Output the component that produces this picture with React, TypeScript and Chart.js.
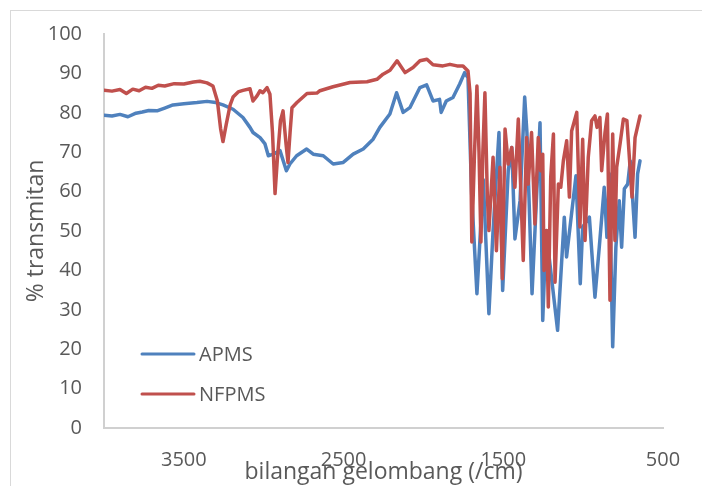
import React, { useEffect, useRef } from "react";
import { Chart, registerables } from "chart.js";

Chart.register(...registerables);

const FONT = '"Open Sans", "DejaVu Sans", sans-serif';
const TEXT = "#595959";
const AXIS = "#d0d0d0";

const seriesNames = ["APMS", "NFPMS"];
const seriesColors = ["#4F81BD", "#C0504D"];
const xTickValues = [3500, 2500, 1500, 500];
const xTitle = "bilangan gelombang (/cm)";
const yTitle = "% transmitan";

// APMS spectrum: wavenumber (cm-1) and % transmittance
const wnAPMS = [
  4000, 3950, 3900, 3850, 3800, 3760, 3720, 3668, 3620, 3568,
  3500, 3418, 3355, 3300, 3255, 3192, 3130, 3086, 3067, 3023,
  2992, 2971, 2940, 2898, 2858, 2836, 2794, 2731, 2690, 2627,
  2565, 2502, 2440, 2377, 2315, 2273, 2210, 2168, 2127, 2085,
  2022, 1980, 1940, 1899, 1889, 1857, 1815, 1773, 1742, 1721,
  1698, 1665, 1625, 1590, 1565, 1527, 1504, 1469, 1447, 1427,
  1395, 1366, 1352, 1320, 1270, 1253, 1232, 1160, 1118, 1104,
  1045, 1018, 1003, 961, 926, 899, 868, 851, 836, 815,
  795, 774, 759, 742, 721, 705, 675, 659, 644,
];
const tAPMS = [
  79.4, 79.2, 79.6, 79.0, 79.9, 80.2, 80.6, 80.5, 81.2, 82.0,
  82.3, 82.6, 82.9, 82.6, 82.0, 80.9, 78.8, 76.3, 75.0, 73.7,
  72.1, 69.1, 69.5, 70.4, 65.3, 67.0, 69.1, 70.8, 69.5, 69.1,
  67.0, 67.4, 69.5, 70.8, 73.3, 76.3, 79.7, 85.1, 80.1, 81.3,
  86.4, 87.1, 83.0, 83.4, 80.1, 83.0, 83.9, 87.3, 90.2, 88.9,
  59.4, 34.1, 63.0, 29.0, 49.3, 75.0, 34.9, 65.3, 71.2, 48.0,
  57.7, 84.0, 75.0, 34.1, 77.5, 27.3, 50.1, 24.8, 53.5, 43.4,
  64.0, 36.6, 51.0, 53.5, 33.2, 45.9, 61.1, 48.4, 64.5, 20.6,
  45.9, 57.7, 45.9, 60.7, 61.9, 67.8, 48.4, 64.5, 67.8,
];

// NFPMS spectrum: wavenumber (cm-1) and % transmittance
const wnNFPMS = [
  4000, 3950, 3900, 3860, 3820, 3780, 3740, 3700, 3660, 3620,
  3560, 3500, 3440, 3400, 3355, 3318, 3290, 3270, 3255, 3235,
  3210, 3192, 3160, 3130, 3086, 3067, 3042, 3023, 3005, 2979,
  2961, 2945, 2929, 2915, 2895, 2879, 2860, 2848, 2835, 2823,
  2792, 2729, 2667, 2648, 2566, 2460, 2353, 2291, 2253, 2209,
  2165, 2115, 2065, 2022, 1978, 1940, 1878, 1834, 1790, 1752,
  1721, 1708, 1697, 1680, 1665, 1652, 1640, 1628, 1615, 1600,
  1590, 1564, 1543, 1521, 1506, 1489, 1469, 1447, 1427, 1406,
  1375, 1354, 1344, 1323, 1302, 1281, 1266, 1253, 1245, 1228,
  1218, 1203, 1186, 1176, 1155, 1140, 1124, 1103, 1086, 1072,
  1040, 1020, 1003, 988, 968, 947, 926, 913, 895, 884,
  863, 848, 832, 815, 801, 790, 769, 748, 726, 694,
  675, 644,
];
const tNFPMS = [
  85.7, 85.5, 85.9, 84.9, 86.0, 85.6, 86.5, 86.2, 87.0, 86.8,
  87.4, 87.3, 87.8, 88.0, 87.6, 86.8, 83.0, 76.0, 72.7, 77.0,
  82.0, 84.0, 85.3, 85.7, 86.1, 83.0, 84.3, 85.6, 85.1, 86.4,
  84.7, 75.0, 59.5, 68.0, 78.0, 80.5, 72.0, 67.4, 75.0, 81.3,
  82.6, 84.9, 85.0, 85.6, 86.6, 87.7, 87.9, 88.5, 89.8, 90.8,
  93.2, 90.2, 91.5, 93.2, 93.6, 92.2, 91.9, 92.3, 91.9, 91.9,
  90.6, 85.0, 47.2, 70.0, 86.8, 70.0, 47.2, 70.0, 85.1, 59.0,
  50.1, 68.7, 45.0, 66.2, 37.9, 75.9, 67.0, 71.2, 61.1, 78.4,
  42.5, 73.7, 61.9, 75.0, 51.8, 73.7, 65.3, 69.5, 40.0, 50.1,
  30.7, 63.6, 74.6, 37.0, 61.9, 61.1, 67.8, 72.9, 58.6, 75.4,
  80.1, 51.0, 73.3, 47.6, 68.7, 78.0, 79.2, 76.3, 78.8, 65.3,
  75.0, 79.7, 32.4, 74.6, 47.6, 66.2, 72.1, 78.4, 78.0, 58.6,
  73.7, 79.2,
];

const toPoints = (xs: number[], ys: number[]) =>
  xs.map((x, i) => ({ x, y: ys[i] }));

const overlayPlugin = {
  id: "overlay",
  afterDraw(chart: any) {
    const { ctx, chartArea } = chart;
    ctx.save();
    // inside legend
    const legendRows = [chartArea.bottom - 74, chartArea.bottom - 34];
    seriesNames.forEach((name, i) => {
      const y = legendRows[i];
      ctx.strokeStyle = seriesColors[i];
      ctx.lineWidth = 3;
      ctx.lineCap = "round";
      ctx.beginPath();
      ctx.moveTo(chartArea.left + 38, y);
      ctx.lineTo(chartArea.left + 90, y);
      ctx.stroke();
      ctx.fillStyle = TEXT;
      ctx.font = `20px ${FONT}`;
      ctx.textAlign = "left";
      ctx.textBaseline = "alphabetic";
      ctx.fillText(name, chartArea.left + 95, y + 7);
    });
    // axis titles
    ctx.fillStyle = TEXT;
    ctx.font = `23px ${FONT}`;
    ctx.textAlign = "center";
    ctx.textBaseline = "alphabetic";
    ctx.fillText(xTitle, (chartArea.left + chartArea.right) / 2, chartArea.bottom + 51);
    ctx.translate(43, (chartArea.top + chartArea.bottom) / 2);
    ctx.rotate(-Math.PI / 2);
    ctx.fillText(yTitle, 0, 0);
    ctx.restore();
  },
};

export default function App() {
  const ref = useRef<HTMLCanvasElement | null>(null);

  useEffect(() => {
    if (!ref.current) return;
    const lineStyle = {
      borderWidth: 3.5,
      pointRadius: 0,
      tension: 0,
      borderJoinStyle: "round" as const,
      borderCapStyle: "round" as const,
    };
    const chart = new Chart(ref.current, {
      type: "line",
      data: {
        datasets: [
          {
            label: seriesNames[0],
            data: toPoints(wnAPMS, tAPMS),
            borderColor: seriesColors[0],
            backgroundColor: seriesColors[0],
            ...lineStyle,
            order: 1,
          },
          {
            label: seriesNames[1],
            data: toPoints(wnNFPMS, tNFPMS),
            borderColor: seriesColors[1],
            backgroundColor: seriesColors[1],
            ...lineStyle,
            order: 0,
          },
        ],
      },
      options: {
        responsive: false,
        animation: false,
        parsing: false as any,
        layout: { padding: { top: 33, right: 39, left: 0, bottom: 0 } },
        plugins: { legend: { display: false }, tooltip: { enabled: false } },
        scales: {
          x: {
            type: "linear",
            reverse: true,
            min: 500,
            max: 4000,
            afterBuildTicks: (s: any) => {
              s.ticks = xTickValues.map((v) => ({ value: v }));
            },
            afterFit: (s: any) => {
              s.height = 58;
            },
            grid: { display: false, drawTicks: false },
            border: { display: true, color: AXIS, width: 2 },
            ticks: {
              padding: 20,
              color: TEXT,
              font: { family: FONT, size: 20 },
              maxRotation: 0,
              autoSkip: false,
              callback: (v: any) => String(v),
            },
          },
          y: {
            type: "linear",
            min: 0,
            max: 100,
            afterFit: (s: any) => {
              s.width = 104;
            },
            grid: { display: false, drawTicks: false },
            border: { display: true, color: AXIS, width: 2 },
            ticks: {
              stepSize: 10,
              padding: 22,
              color: TEXT,
              font: { family: FONT, size: 20 },
              callback: (v: any) => String(v),
            },
          },
        },
      },
      plugins: [overlayPlugin],
    });
    return () => chart.destroy();
  }, []);

  return (
    <div style={{ position: "absolute", left: 0, top: 0, width: 702, height: 486, overflow: "hidden", background: "#fff" }}>
      <div
        style={{
          position: "absolute",
          left: 10,
          top: 10,
          right: 0,
          bottom: 0,
          borderLeft: "1px solid #d9d9d9",
          borderTop: "1px solid #d9d9d9",
        }}
      />
      <canvas ref={ref} width={702} height={486} style={{ position: "absolute", left: 0, top: 0 }} />
    </div>
  );
}
